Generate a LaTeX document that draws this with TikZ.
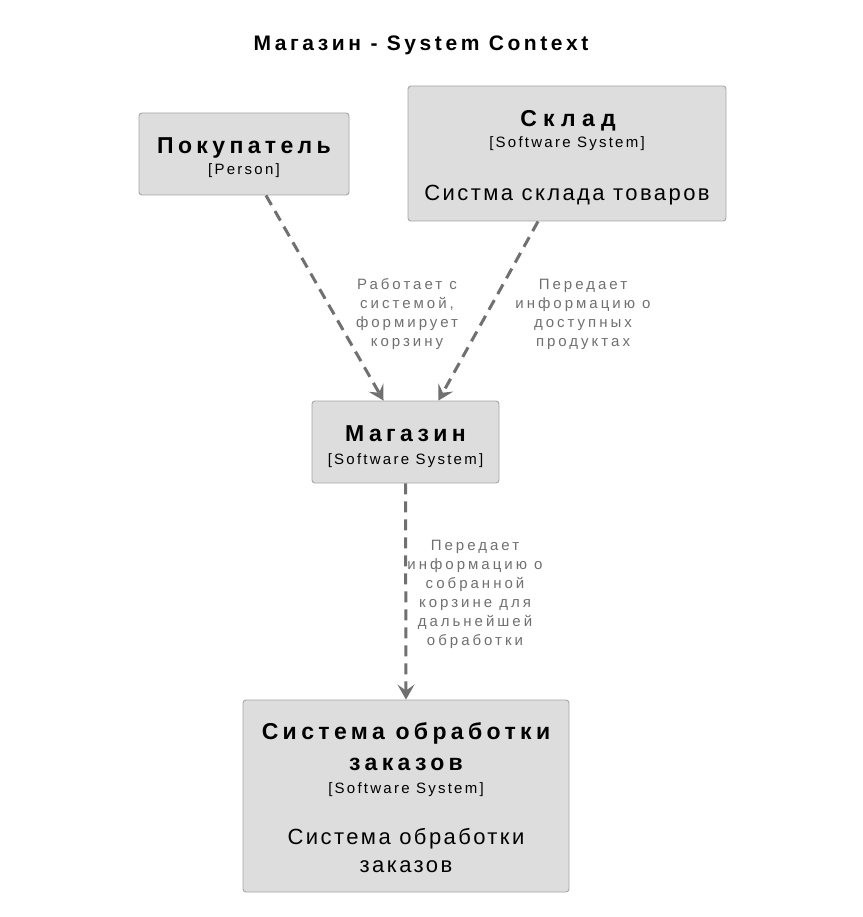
\documentclass[tikz,border=0pt]{standalone}
\usepackage{fontspec}
\setmainfont{Liberation Sans}[LetterSpace=10]
\newfontfamily\ftitle{Liberation Sans}[LetterSpace=17]
\newfontfamily\fttl{Liberation Sans}[LetterSpace=19]
\newfontfamily\fttlwide{Liberation Sans}[LetterSpace=27]
\newfontfamily\fkind{Liberation Sans}[LetterSpace=15]
\newfontfamily\fdesc{Liberation Sans}[LetterSpace=11]
\newfontfamily\flabel{Liberation Sans}[LetterSpace=20]
\usetikzlibrary{arrows.meta}
\definecolor{boxfill}{HTML}{DDDDDD}
\definecolor{boxline}{HTML}{A6A6A6}
\definecolor{arr}{HTML}{707070}
\begin{document}
\begin{tikzpicture}[x=1pt,y=-1pt,
  box/.style={draw=boxline, fill=boxfill, rounded corners=3pt, line width=0.9pt, inner sep=0pt},
  ttl/.style={anchor=base, inner sep=0pt, font=\fttl\fontsize{23}{31}\selectfont\bfseries},
  kind/.style={anchor=base, inner sep=0pt, font=\fkind\fontsize{15}{18}\selectfont},
  desc/.style={anchor=base, inner sep=0pt, align=center, font=\fdesc\fontsize{22}{28}\selectfont},
  elabel/.style={anchor=base, inner sep=0pt, align=center, text=arr, font=\flabel\fontsize{15}{19}\selectfont},
  rel/.style={draw=arr, line width=3pt, dash pattern=on 11pt off 7pt,
    arrows={-{Stealth[length=15pt,width=17pt,inset=6pt,line width=1.5pt,fill=arr,color=arr]}}}
]
\useasboundingbox (0,0) rectangle (862,917);
\fill[white] (0,0) rectangle (862,917);

\node[anchor=base, inner sep=0pt, font=\ftitle\fontsize{21}{24}\selectfont\bfseries] (title) at (421,50.5) {Магазин - System Context};

% boxes
\node[box, minimum width=210pt, minimum height=82pt] (pok) at (244,154) {};
\node[box, minimum width=318pt, minimum height=135pt] (skl) at (567,153.5) {};
\node[box, minimum width=187pt, minimum height=82pt] (mag) at (405.5,442) {};
\node[box, minimum width=326pt, minimum height=192pt] (sys) at (406,796) {};

% box texts
\node[ttl] (pokt) at (244,153.5) {Покупатель};
\node[kind] (pokk) at (244,175) {[Person]};

\node[ttl, font=\fttlwide\fontsize{23}{31}\selectfont\bfseries] (sklt) at (568,126.5) {Склад};
\node[kind] (sklk) at (567,148) {[Software System]};
\node[desc] (skld) at (567,201) {Систма склада товаров};

\node[ttl] (magt) at (405.5,441.5) {Магазин};
\node[kind] (magk) at (405.5,464) {[Software System]};

\node[ttl] (syst1) at (406,739.5) {Система обработки};
\node[ttl] (syst2) at (406,770.5) {заказов};
\node[kind] (sysk) at (406,793) {[Software System]};
\node[desc] (sysd) at (406,872) {Система обработки\\заказов};

% relations
\draw[rel] ([xshift=22pt]pok.south) -- ([xshift=-22pt]mag.north);
\draw[rel] ([xshift=-29pt]skl.south) -- ([xshift=33pt]mag.north);
\draw[rel] (mag.south) -- (sys.north);

\node[elabel] (l1) at (407,346.5) {Работает с\\системой,\\формирует\\корзину};
\node[elabel] (l2) at (583,346.5) {Передает\\информацию о\\доступных\\продуктах};
\node[elabel] (l3) at (475,645.5) {Передает\\информацию о\\собранной\\корзине для\\дальнейшей\\обработки};
\end{tikzpicture}
\end{document}
